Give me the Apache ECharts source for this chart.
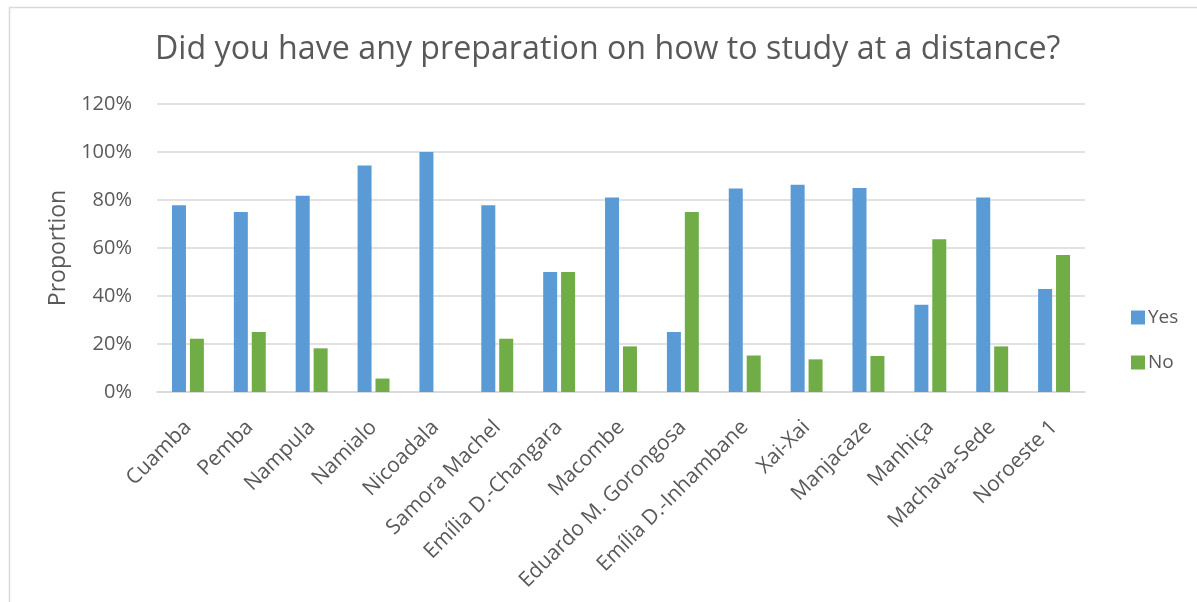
<!DOCTYPE html>
<html>
<head>
<meta charset="utf-8">
<script src="https://cdn.jsdelivr.net/npm/echarts@6/dist/echarts.min.js"></script>
<style>
html,body{margin:0;padding:0;background:#fff;}
#main{width:1197px;height:602px;}
</style>
</head>
<body>
<div id="main"></div>
<script>
const categories = ["Cuamba","Pemba","Nampula","Namialo","Nicoadala","Samora Machel","Emília D.-Changara","Macombe","Eduardo M. Gorongosa","Emília D.-Inhambane","Xai-Xai","Manjacaze","Manhiça","Machava-Sede","Noroeste 1"];
const yesValues = [0.778, 0.75, 0.818, 0.944, 1.0, 0.778, 0.5, 0.81, 0.25, 0.848, 0.864, 0.85, 0.364, 0.81, 0.429];
const noValues  = [0.222, 0.25, 0.182, 0.056, 0, 0.222, 0.5, 0.19, 0.75, 0.152, 0.136, 0.15, 0.636, 0.19, 0.571];
const seriesNames = ["Yes", "No"];
const titleText = "Did you have any preparation on how to study at a distance?";

const FONT = "'Open Sans', 'Noto Sans', sans-serif";
const TXT = '#595959';
const chart = echarts.init(document.getElementById('main'), null, {renderer:'canvas'});
chart.setOption({
  backgroundColor: '#fff',
  animation: false,
  graphic: [{
    type: 'rect', left: 7, top: 5,
    shape: {width: 1300, height: 700},
    style: {fill: 'none', stroke: '#d9d9d9', lineWidth: 1.5},
    silent: true
  }],
  title: {
    text: titleText, left: 150, top: 29,
    textStyle: {fontFamily: FONT, fontSize: 32.2, fontWeight: 'normal', color: TXT}
  },
  legend: {
    orient: 'vertical', left: 1126, top: 303, itemGap: 26,
    itemWidth: 14, itemHeight: 14, icon: 'rect',
    textStyle: {fontFamily: FONT, fontSize: 19, color: TXT, padding: [0,0,0,-2]},
    data: seriesNames
  },
  grid: {left: 157, right: 112, top: 104, bottom: 210, containLabel: false},
  xAxis: {
    type: 'category', data: categories,
    axisLine: {lineStyle: {color: '#d9d9d9', width: 1.5}},
    axisTick: {show: false},
    axisLabel: {rotate: 45, margin: 32, interval: 0, fontFamily: FONT, fontSize: 21, color: TXT}
  },
  yAxis: {
    type: 'value', min: 0, max: 1.2, interval: 0.2,
    name: 'Proportion', nameLocation: 'middle', nameGap: 86, nameRotate: 90,
    nameTextStyle: {fontFamily: FONT, fontSize: 23, color: TXT},
    axisLine: {show: false}, axisTick: {show: false},
    axisLabel: {margin: 25, fontFamily: FONT, fontSize: 20, color: TXT,
      formatter: v => Math.round(v*100) + '%'},
    splitLine: {lineStyle: {color: '#d9d9d9', width: 1.5}}
  },
  series: [
    {name: seriesNames[0], type: 'bar', data: yesValues, barWidth: 14, barGap: '28%',
     itemStyle: {color: '#5B9BD5'}},
    {name: seriesNames[1], type: 'bar', data: noValues, barWidth: 14,
     itemStyle: {color: '#70AD47'}}
  ]
});
</script>
</body>
</html>
